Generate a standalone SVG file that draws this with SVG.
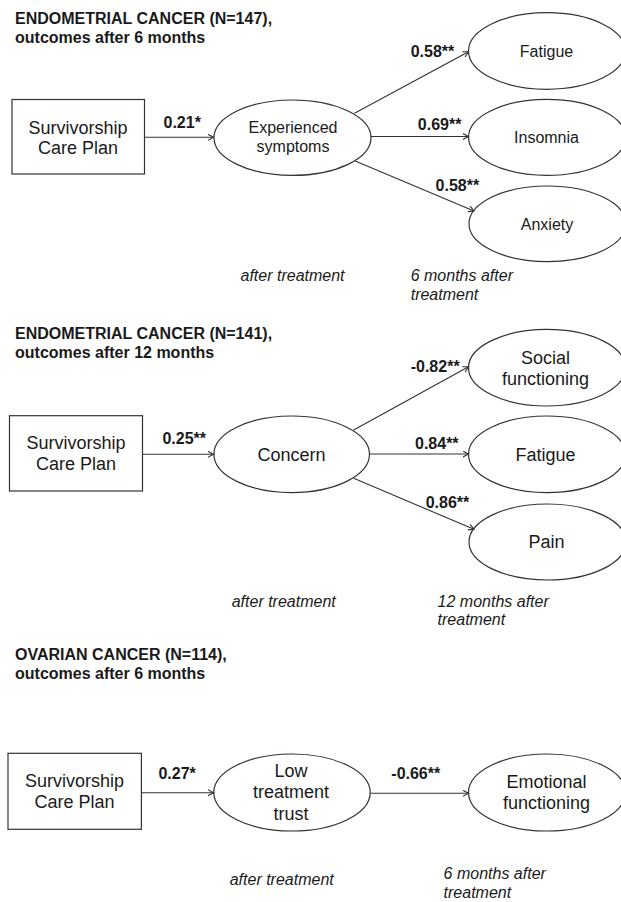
<svg xmlns="http://www.w3.org/2000/svg" width="621" height="902" viewBox="0 0 621 902">
<defs>
<style>
.bg{fill:#ffffff}
.box{fill:#ffffff;stroke:#333333;stroke-width:1.2}
.ell{fill:#ffffff;stroke:#333333;stroke-width:1.2}
.conn{stroke:#333333;stroke-width:1.1;fill:none;marker-end:url(#arr)}
text{font-family:"Liberation Sans",Arial,sans-serif;fill:#1a1a1a}
.title{font-size:16px;font-weight:bold}
.lbl{font-size:16px;font-weight:bold}
.n18{font-size:18px;text-anchor:middle}
.n16{font-size:16px;text-anchor:middle}
.it{font-size:16px;font-style:italic}
</style>
<marker id="arr" markerWidth="8" markerHeight="8" refX="6" refY="3.5" orient="auto" markerUnits="userSpaceOnUse">
<path d="M0.5,0.5 L6,3.5 L0.5,6.5" fill="none" stroke="#333333" stroke-width="1.1"/>
</marker>
</defs>
<rect class="bg" x="0" y="0" width="621" height="902"/>

<!-- Panel 1 -->
<g id="title1">
<text class="title" x="15" y="23.5">ENDOMETRIAL CANCER (N=147),</text>
<text class="title" x="15" y="42.5">outcomes after 6 months</text>
</g>
<g id="scp1">
<rect class="box" x="12" y="99.5" width="132.5" height="74.5"/>
<text class="n18" x="78" y="133.5">Survivorship</text>
<text class="n18" x="78" y="154">Care Plan</text>
</g>
<g id="symptoms">
<ellipse class="ell" cx="292.5" cy="137.7" rx="78.5" ry="37.7"/>
<text class="n16" x="293" y="133.3">Experienced</text>
<text class="n16" x="293" y="152">symptoms</text>
</g>
<g id="fatigue1">
<ellipse class="ell" cx="547" cy="51" rx="78.5" ry="38.3"/>
<text class="n16" x="546.5" y="57.3">Fatigue</text>
</g>
<g id="insomnia">
<ellipse class="ell" cx="547" cy="137.3" rx="78.5" ry="38"/>
<text class="n16" x="546.5" y="143.3">Insomnia</text>
</g>
<g id="anxiety">
<ellipse class="ell" cx="547.5" cy="223.8" rx="78.5" ry="37.8"/>
<text class="n16" x="547" y="229.5">Anxiety</text>
</g>
<g id="notes1">
<text class="it" x="240.5" y="281">after treatment</text>
<text class="it" x="410.7" y="281">6 months after</text>
<text class="it" x="410.7" y="299.5">treatment</text>
</g>

<!-- Panel 2 -->
<g id="title2">
<text class="title" x="15" y="339">ENDOMETRIAL CANCER (N=141),</text>
<text class="title" x="15" y="358">outcomes after 12 months</text>
</g>
<g id="scp2">
<rect class="box" x="9.5" y="415.7" width="133" height="75.3"/>
<text class="n18" x="76" y="449">Survivorship</text>
<text class="n18" x="76" y="470">Care Plan</text>
</g>
<g id="concern">
<ellipse class="ell" cx="291.7" cy="454.3" rx="77.8" ry="38.3"/>
<text class="n18" x="291.5" y="461">Concern</text>
</g>
<g id="social">
<ellipse class="ell" cx="547" cy="367.7" rx="78.5" ry="38.3"/>
<text class="n18" x="545.5" y="364">Social</text>
<text class="n18" x="545.5" y="385">functioning</text>
</g>
<g id="fatigue2">
<ellipse class="ell" cx="547" cy="454.3" rx="78.5" ry="38.3"/>
<text class="n18" x="545.5" y="461">Fatigue</text>
</g>
<g id="pain">
<ellipse class="ell" cx="547.5" cy="542" rx="78.5" ry="38"/>
<text class="n18" x="546.5" y="548">Pain</text>
</g>
<g id="notes2">
<text class="it" x="231.7" y="606.7">after treatment</text>
<text class="it" x="437.6" y="606.7">12 months after</text>
<text class="it" x="437.6" y="625">treatment</text>
</g>

<!-- Panel 3 -->
<g id="title3">
<text class="title" x="15" y="660">OVARIAN CANCER (N=114),</text>
<text class="title" x="15" y="678.5">outcomes after 6 months</text>
</g>
<g id="scp3">
<rect class="box" x="8" y="753.3" width="133.4" height="76"/>
<text class="n18" x="74.5" y="787.3">Survivorship</text>
<text class="n18" x="74.5" y="808.3">Care Plan</text>
</g>
<g id="trust">
<ellipse class="ell" cx="292" cy="792.5" rx="78.2" ry="38.5"/>
<text class="n18" x="291" y="776.7">Low</text>
<text class="n18" x="291" y="798.3">treatment</text>
<text class="n18" x="291" y="820">trust</text>
</g>
<g id="emotional">
<ellipse class="ell" cx="547" cy="792.5" rx="78.5" ry="38.5"/>
<text class="n18" x="546.5" y="788.3">Emotional</text>
<text class="n18" x="546.5" y="809.3">functioning</text>
</g>
<g id="notes3">
<text class="it" x="229.7" y="885">after treatment</text>
<text class="it" x="443.6" y="879">6 months after</text>
<text class="it" x="443.6" y="897.5">treatment</text>
</g>

<!-- Connectors -->
<g id="connectors">
<line class="conn" x1="144.5" y1="137.3" x2="213.5" y2="137.3"/>
<line class="conn" x1="354.5" y1="113.3" x2="468.5" y2="51.7"/>
<line class="conn" x1="371" y1="136.5" x2="468.5" y2="136.5"/>
<line class="conn" x1="355.2" y1="161" x2="474" y2="211"/>
<line class="conn" x1="142.5" y1="454.3" x2="213.5" y2="454.3"/>
<line class="conn" x1="353.7" y1="430" x2="468.5" y2="366.7"/>
<line class="conn" x1="369.5" y1="454" x2="468.5" y2="454"/>
<line class="conn" x1="353.7" y1="478.3" x2="474" y2="529.3"/>
<line class="conn" x1="141.4" y1="792.7" x2="213.5" y2="792.7"/>
<line class="conn" x1="370.3" y1="793.3" x2="468.5" y2="793.3"/>
</g>
<g id="labels">
<text class="lbl" x="163.5" y="128.3">0.21*</text>
<text class="lbl" x="410.7" y="57.3">0.58**</text>
<text class="lbl" x="417.8" y="130">0.69**</text>
<text class="lbl" x="435.6" y="191">0.58**</text>
<text class="lbl" x="162.4" y="444">0.25**</text>
<text class="lbl" x="410.7" y="372.3">-0.82**</text>
<text class="lbl" x="415" y="449">0.84**</text>
<text class="lbl" x="425.7" y="507.7">0.86**</text>
<text class="lbl" x="158.4" y="779">0.27*</text>
<text class="lbl" x="391.3" y="779">-0.66**</text>
</g>
</svg>
